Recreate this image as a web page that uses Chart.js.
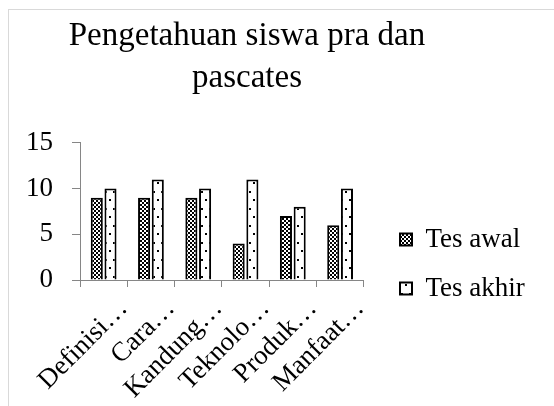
<!DOCTYPE html>
<html>
<head>
<meta charset="utf-8">
<script src="https://cdn.jsdelivr.net/npm/chart.js@4"></script>
<style>
  html, body { margin: 0; padding: 0; background: #fff; overflow: hidden; }
  #wrap { position: relative; width: 554px; height: 406px; }
  #frame { position: absolute; left: 8px; top: 9px; width: 600px; height: 500px;
           border-left: 1px solid #d9d9d9; border-top: 1px solid #d9d9d9; }
  #chart { position: absolute; left: 0; top: 0; }
</style>
</head>
<body>
<div id="wrap">
  <div id="frame"></div>
  <canvas id="chart" width="554" height="406"></canvas>
</div>
<script>
const categories = ['Definisi…', 'Cara…', 'Kandung…', 'Teknolo…', 'Produk…', 'Manfaat…'];
const tesAwal = [9, 9, 9, 4, 7, 6];
const tesAkhir = [10, 11, 10, 11, 8, 10];
const yTicks = [0, 5, 10, 15];

// fill patterns like the old office ones
function makePattern(w, h, dots) {
    const c = document.createElement('canvas');
    c.width = w; c.height = h;
    const g = c.getContext('2d');
    g.fillStyle = '#fff';
    g.fillRect(0, 0, w, h);
    g.fillStyle = '#000';
    dots.forEach(d => g.fillRect(d[0], d[1], 2, 2));
    return g.createPattern(c, 'repeat');
}
const awalFill = makePattern(4, 4, [[0, 0], [2, 2]]);
const akhirFill = makePattern(8, 17, [[1, 4], [5, 12]]);

const serif = 'Liberation Serif';
const axisGray = '#868686';

// title centre and legend position as in the original
const placeBoxes = {
    id: 'placeBoxes',
    afterLayout(chart) {
        chart.titleBlock.left = 0;
        chart.titleBlock.right = 494;
        const lg = chart.legend;
        lg.left = 378;
        lg.right = 554;
        lg.top += 65;
        lg.bottom += 65;
    }
};

new Chart(document.getElementById('chart'), {
    type: 'bar',
    data: {
        labels: categories,
        datasets: [{
            label: 'Tes awal',
            data: tesAwal,
            backgroundColor: awalFill,
            borderColor: '#000',
            borderWidth: 2,
            categoryPercentage: 0.58,
            barPercentage: 0.88
        }, {
            label: 'Tes akhir',
            data: tesAkhir,
            backgroundColor: akhirFill,
            borderColor: '#000',
            borderWidth: 2,
            categoryPercentage: 0.58,
            barPercentage: 0.88
        }]
    },
    options: {
        responsive: false,
        animation: false,
        layout: { padding: { left: 0, right: 69, top: 0, bottom: 8 } },
        plugins: {
            title: {
                display: true,
                text: ['Pengetahuan siswa pra dan', 'pascates'],
                color: '#000',
                font: { family: serif, size: 33, weight: 'normal', lineHeight: 1.27 },
                padding: { top: 15, bottom: 44 }
            },
            legend: {
                position: 'right',
                labels: {
                    color: '#000',
                    boxWidth: 12,
                    boxHeight: 12,
                    padding: 22,
                    font: { family: serif, size: 27 }
                }
            },
            tooltip: { enabled: false }
        },
        scales: {
            x: {
                afterFit(scale) {
                    scale.height = 118;
                    scale.paddingLeft = 0;
                    scale.paddingRight = 0;
                },
                grid: { display: true, drawOnChartArea: false, color: axisGray, tickLength: 7 },
                border: { color: axisGray },
                ticks: {
                    color: '#000',
                    font: { family: serif, size: 27 },
                    minRotation: 45,
                    maxRotation: 45,
                    autoSkip: false,
                    labelOffset: 20,
                    padding: 6
                }
            },
            y: {
                min: 0,
                max: 15,
                afterFit(scale) { scale.width = 80; },
                afterBuildTicks(axis) { axis.ticks = yTicks.map(v => ({ value: v })); },
                grid: { display: true, drawOnChartArea: false, color: axisGray, tickLength: 8 },
                border: { color: axisGray },
                ticks: {
                    color: '#000',
                    font: { family: serif, size: 27 },
                    padding: 19
                }
            }
        }
    },
    plugins: [placeBoxes]
});
</script>
</body>
</html>
